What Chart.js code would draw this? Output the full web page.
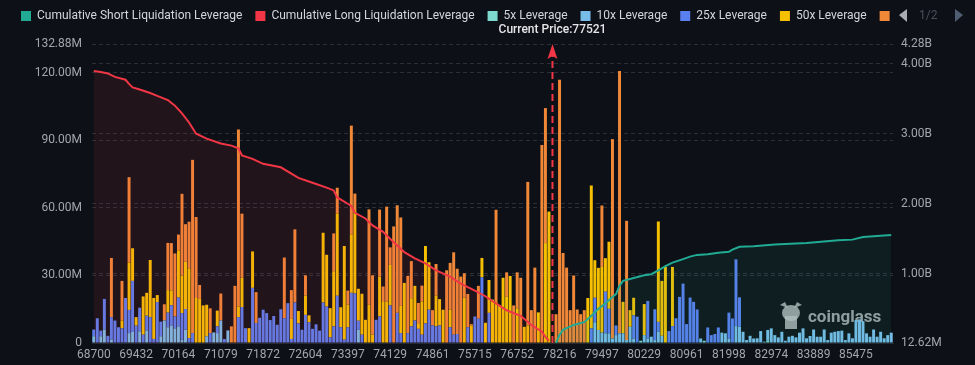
<!DOCTYPE html>
<html>
<head>
<meta charset="utf-8">
<script src="https://cdn.jsdelivr.net/npm/chart.js@4.4.1/dist/chart.umd.min.js"></script>
<style>
  html, body { margin: 0; padding: 0; background: #0d1117; }
  #wrap { width: 975px; height: 365px; }
</style>
</head>
<body>
<div id="wrap"><canvas id="chart" width="975" height="365"></canvas></div>
<script>
// Price levels on the x axis (one category per level, 77521 is the current price slot)
const prices = [
  68700, 68761, 68822, 68883, 68944, 69005, 69066, 69127, 69188, 69249, 69310, 69371,
  69432, 69493, 69554, 69615, 69676, 69737, 69798, 69859, 69920, 69981, 70042, 70103,
  70164, 70225, 70286, 70347, 70469, 70530, 70591, 70652, 70774, 70835, 70957, 71018,
  71079, 71140, 71201, 71262, 71323, 71384, 71445, 71567, 71628, 71689, 71750, 71811,
  71872, 71933, 71994, 72055, 72116, 72177, 72238, 72299, 72360, 72421, 72482, 72543,
  72604, 72665, 72726, 72787, 72848, 72909, 73031, 73092, 73153, 73214, 73275, 73336,
  73397, 73458, 73519, 73580, 73641, 73702, 73763, 73824, 73885, 73946, 74007, 74068,
  74129, 74190, 74251, 74312, 74373, 74434, 74495, 74556, 74617, 74678, 74739, 74800,
  74861, 74922, 74983, 75044, 75166, 75227, 75288, 75349, 75471, 75532, 75593, 75654,
  75715, 75776, 75837, 75959, 76020, 76142, 76264, 76325, 76447, 76569, 76630, 76691,
  76752, 76813, 76874, 76996, 77057, 77118, 77240, 77301, 77362, 77484, 77521, 78155,
  78216, 78277, 78338, 78399, 78521, 78643, 78765, 78887, 79009, 79131, 79253, 79375,
  79497, 79558, 79619, 79680, 79741, 79802, 79863, 79924, 79985, 80046, 80107, 80168,
  80229, 80290, 80351, 80412, 80473, 80534, 80595, 80656, 80717, 80778, 80839, 80900,
  80961, 81022, 81083, 81205, 81266, 81388, 81449, 81571, 81632, 81754, 81815, 81937,
  81998, 82059, 82120, 82181, 82303, 82364, 82425, 82547, 82608, 82730, 82852, 82913,
  82974, 83035, 83096, 83157, 83279, 83340, 83401, 83523, 83584, 83706, 83767, 83828,
  83889, 83950, 84072, 84194, 84316, 84438, 84560, 84743, 84926, 85109, 85231, 85353,
  85475, 85536, 85597, 85658, 85719, 85780, 85841, 85902, 85963, 86024, 86085
];

// Labels shown on the x axis
const tickPrices = [68700, 69432, 70164, 71079, 71872, 72604, 73397, 74129, 74861, 75715,
  76752, 78216, 79497, 80229, 80961, 81998, 82974, 83889, 85475];

const currentPrice = 77521;

// Liquidation volume per level, in millions (left axis)
const lev5 = [
  0,0,0,0,0,0,0,0,0,0,0,0,
  0,0,0,0,0,0,0,0,0,0,0,0,
  0,0,0,0,0,0,0,0,0,0,0,0,
  0,0,0,0,0,0,0,0,0,0,0,0,
  0,0,0,0,0,0,0,0,0,0,0,0,
  0,0,0,0,0,0,0,0,0,0,0,0,
  0,0,0,0,0,0,0,0,0,0,0,0,
  0,0,0,0,0,0,0,0,0,0,0,0,
  0,0,0,0,0,0,0,0,0,0,0,0,
  0,0,0,0,0,0,0,0,0,0,0,0,
  0,0,0,0,0,0,0,0,0,0,null,0,
  0,0,0,0,0,0,0,0,0,0,0,0,
  0,0,0,0,0,0,0,0,0,0,0,1,
  0,0,0,0,0,0,0,0,0,0,0,0,
  0,0,0,0,0,1,0,0,0,0,0,0,
  0,0,0,0,0,0,0,0,0,0,0,1.2,
  0,0,0,0,0,0,0,0,0,0,0,0,
  0,0,0,0,0,0,0,0,0,0,0,0,
  0,0,0,0,0,0,0,0,0,0,0
];
const lev10 = [
  3,0,3,6,0,1.5,0,0,0,0,4.4,4.9,
  0,5.2,0,5.6,0,0,0,3,10,7,7.8,6.5,
  7.4,1.5,5.9,0,0,0,0,0,3,0,4.7,4.4,
  10,0,5.6,0,0,0,0,0,0,0,0,0,
  0,0,0,0,0,0,0,0,0,0,0,0,
  0,0,0,0,0,0,0,0,0,0,0,0,
  0,0,0,5.9,0,0,0,0,0,0,0,0,
  0,0,0,0,0,0,0,0,0,0,0,0,
  0,0,0,0,0,0,0,0,0,0,0,0,
  0,0,0,0,0,0,0,0,0,0,0,0,
  0,0,0,0,0,0,0,0,0,0,null,0,
  0,0,0,0,0,0,0,0,0,0,9.2,5.8,
  4.6,4.3,4.3,2,3.5,4.3,4.3,1.3,7.2,2,0,0,
  3.5,2,2.8,1.3,5,3.2,0,0,0,0,0,0,
  0,0,0,0,2,0,0,0,0,0,4.6,4.3,
  2,0,7.5,7.2,5,1.3,3.2,2,2.1,5.3,0.6,4.6,
  6.5,3.5,2.5,5,1,2.8,3.2,2.5,4.6,6.5,2.1,3.1,
  6,2.8,2.8,6,1.3,4.6,5,5.3,5.5,1.3,4.3,2.1,
  10.2,10.5,9.7,4.3,2.8,6,2.8,5,2.1,3.5,4.6
];
const lev25 = [
  3,11,2.5,13.6,3.2,10,10,7,6.5,20,10.3,22.7,
  7.7,10.5,3.7,6.5,11.5,1.8,18.2,6.5,0,6.5,9,5.3,
  12.8,11.8,9.2,2.2,4.4,0,0,0,0,4.4,0,3,
  0,1.8,0,0,0,11.5,16,6.6,0,24.5,8.9,11.2,
  14.8,13.3,10.2,12,8.1,15,11,17.7,1.8,18,8.7,5.9,
  12.5,9.2,6.3,8.3,5.5,18,16.2,2.5,7.4,21,7,1.5,
  7,22.3,22,4,3.7,0,0,0,10.3,11.8,0,0,
  16.7,0,13.4,4.4,0,4.4,7.4,10,6.3,3.7,8.7,14.8,
  7.8,7.4,7.8,0,0,7,3.7,4,0,0,7,0,
  11.8,10.8,29.2,0,13.4,0,0,0,0,0,0,0,
  0,0,0,0,0,0,0,0,0,0,null,0,
  0,0,0,0,0,0,0,0,0,6.5,10.9,0,
  0,18.5,10.9,0,4.3,0,0,0,0,10.3,11.7,0,
  0,16.7,0,13.7,4.4,0,0,5.3,7.5,11,20.5,26.4,
  8.4,20.2,18.3,14.9,0,0,6.9,3.5,4,6.9,0,0,
  11.5,10.9,29.7,13.1,0,0,0,0,0,0,0,0,
  0,0,0,0,0,0,0,0,0,0,0,0,
  0,0,0,0,0,0,0,0,0,0,0,0,
  0,0,0,0,0,0,0,0,0,0,0
];
const lev50 = [
  0,0,0,0,0,0,0,0,3.5,0,21,14.5,
  3.8,0,17,10.2,25.4,18.2,3.1,0,0,10,6.6,0,
  21,16.7,21,31,0,20,19.6,16.7,14,0,0,7,
  0,0,0,0,0,4.7,13,0,6.6,16.2,0,0,
  0,0,0,0,0,0,0,0,8.9,0,5.5,0,
  8.6,3.1,0,0,0,31,23,13,24.5,36.6,8.9,41.6,
  10,26,37,14.2,18.2,10.3,17,3.7,0,17.7,18.6,18.4,
  18,0,0,12.1,26.7,0,12.5,15.4,2.5,14.8,34.4,21.1,
  0,13.7,11.7,14.8,0,7.8,0,0,0,20.2,0,7.8,
  0,0,8.6,9,14.6,19.3,18.3,16.8,29,20.5,29.8,0,
  15.4,0,7.2,7.8,0,0,13.6,0,44.4,58.4,null,0,
  0,0,0,0,0,0,0,0,20,63.5,16.7,27.6,
  29.2,14.9,29.8,0,0,0,14,0,7.4,7.8,0,0,
  13.8,0,0,0,44.6,24.4,33.8,0,26.3,0,0,0,
  0,0,0,0,0,0,0,0,0,0,0,0,
  0,0,0,0,0,0,0,0,0,0,0,0,
  0,0,0,0,0,0,0,0,0,0,0,0,
  0,0,0,0,0,0,0,0,0,0,0,0,
  0,0,0,0,0,0,0,0,0,0,0
];
const lev100 = [
  0,0,0,0,0,26.3,0,0,17.6,0,38,0,
  0,0,0,0,0,0,0,0,7.2,21,21,28,
  7,36.3,16.7,20.7,77,36,6.2,0,0,11,0,0,
  12,0,0,7.4,25.4,78.7,28.5,0,0,0,13.7,0,
  0,0,0,0,0,0,27,0,12.8,32.5,0,0,
  9,0,0,0,0,0,0,0,16.8,11.4,0,0,
  6.3,48.3,7.4,0,0,0,42.4,26.4,0,29.8,6.5,42.2,
  7.8,51.8,47.8,39.3,0,25.4,16.5,0,9,7,0,0,
  6.8,14,0,0,32.3,20.8,36.6,29,29.5,10.8,14.8,0.6,
  0,14.6,0,0,0,0,40.9,0,0,10.9,0,16.7,
  16,29,0,63.8,14.6,33.5,0,88,60,0,null,12.8,
  117,40,33.5,14.6,30,14.9,12.8,14.6,0,0,0,0,
  27.3,0,0,88.6,0,116.6,0,53,0,0,0,0,
  0,0,0,0,0,0,0,0,0,0,0,0,
  0,0,0,0,0,0,0,0,0,0,0,0,
  0,0,0,0,0,0,0,0,0,0,0,0,
  0,0,0,0,0,0,0,0,0,0,0,0,
  0,0,0,0,0,0,0,0,0,0,0,0,
  0,0,0,0,0,0,0,0,0,0,0
];

// Cumulative liquidation, in millions (right axis), read at these price levels
const cumLong = [
  [68700, 3896], [68822, 3880], [68944, 3860], [69066, 3810], [69249, 3770], [69310, 3710],
  [69371, 3660], [69493, 3630], [69676, 3580], [69798, 3540], [69981, 3480], [70103, 3400],
  [70225, 3290], [70347, 3160], [70530, 3000], [70774, 2930], [71079, 2860], [71262, 2830],
  [71384, 2790], [71445, 2690], [71689, 2640], [71872, 2570], [72177, 2520], [72360, 2430],
  [72482, 2370], [72726, 2300], [73031, 2230], [73153, 2190], [73214, 2090], [73397, 2000],
  [73458, 1970], [73519, 1870], [73702, 1790], [73824, 1690], [74007, 1600], [74190, 1450],
  [74373, 1310], [74556, 1220], [74739, 1150], [74922, 1050], [75227, 960], [75471, 860],
  [75715, 760], [75959, 680], [76264, 577], [76569, 480], [76813, 400], [77057, 270],
  [77301, 175], [77362, 100], [77484, 45]
];
const cumShort = [
  [78155, 12.62], [78216, 130], [78277, 200], [78521, 270], [78887, 310], [79131, 400],
  [79375, 500], [79558, 580], [79680, 670], [79741, 710], [79802, 830], [79863, 900],
  [80046, 940], [80229, 980], [80351, 995], [80473, 1050], [80595, 1110], [80717, 1160],
  [80900, 1210], [81022, 1245], [81205, 1270], [81449, 1280], [81754, 1300], [81998, 1315],
  [82059, 1345], [82181, 1385], [82547, 1395], [83035, 1418], [83767, 1440], [84743, 1478],
  [85353, 1488], [85597, 1525], [86085, 1553]
];

// Axis ticks
const leftTicks = [0, 30, 60, 90, 120, 132.88];
const rightTicks = [12.62, 1000, 2000, 3000, 4000, 4280];

const colors = {
  short: '#22ab94', long: '#f23645',
  x5: '#7fd8d0', x10: '#78bdea', x25: '#5a7ff0', x50: '#f5c000', x100: '#f08838'
};

Chart.defaults.font.family = 'Roboto, "Noto Sans", sans-serif';
Chart.defaults.font.size = 12;
Chart.defaults.color = '#a2a6ad';

function fmtRight(v) {
  return v >= 1000 ? (v / 1000).toFixed(2) + 'B' : v.toFixed(2) + 'M';
}

function barSet(label, data, color) {
  return {
    type: 'bar', label, data, backgroundColor: color, borderWidth: 0,
    yAxisID: 'y', stack: 'lev', barPercentage: 0.84, categoryPercentage: 1
  };
}

// current price marker, watermark and legend pager
const extras = {
  id: 'extras',
  beforeDatasetsDraw(chart) {
    const { ctx } = chart;
    ctx.save();
    ctx.fillStyle = 'rgba(190,192,196,0.8)';
    // rough coinglass head
    ctx.beginPath();
    ctx.ellipse(791, 313, 9, 8, 0, 0, Math.PI * 2);
    ctx.fill();
    ctx.beginPath();
    ctx.moveTo(780, 305); ctx.lineTo(785, 302); ctx.lineTo(788, 308); ctx.fill();
    ctx.beginPath();
    ctx.moveTo(802, 305); ctx.lineTo(797, 302); ctx.lineTo(794, 308); ctx.fill();
    ctx.fillRect(785, 316, 12, 13);
    ctx.font = 'bold 17px Roboto, sans-serif';
    ctx.textBaseline = 'middle';
    ctx.fillText('coinglass', 808, 318);
    ctx.restore();
  },
  afterDatasetsDraw(chart) {
    const { ctx, chartArea, scales: { x } } = chart;
    const px = x.getPixelForValue(prices.indexOf(currentPrice));
    ctx.save();
    ctx.strokeStyle = colors.long;
    ctx.lineWidth = 2;
    ctx.setLineDash([7, 4]);
    ctx.beginPath();
    ctx.moveTo(px, chartArea.bottom);
    ctx.lineTo(px, chartArea.top + 12);
    ctx.stroke();
    ctx.setLineDash([]);
    ctx.fillStyle = colors.long;
    ctx.beginPath();
    ctx.moveTo(px, chartArea.top);
    ctx.lineTo(px - 5, chartArea.top + 15);
    ctx.lineTo(px, chartArea.top + 12);
    ctx.lineTo(px + 5, chartArea.top + 15);
    ctx.closePath();
    ctx.fill();
    ctx.fillStyle = '#e4e6e9';
    ctx.font = '500 12px Roboto, sans-serif';
    ctx.textAlign = 'center';
    ctx.textBaseline = 'middle';
    ctx.fillText('Current Price:' + currentPrice, px, 30);
    ctx.restore();
  },
  afterDraw(chart) {
    const { ctx } = chart;
    ctx.save();
    ctx.fillStyle = '#a9acb2';
    ctx.beginPath();
    ctx.moveTo(899, 15); ctx.lineTo(907, 9); ctx.lineTo(907, 22); ctx.closePath(); ctx.fill();
    ctx.fillStyle = '#4a4f58';
    ctx.font = '12px Roboto, sans-serif';
    ctx.textBaseline = 'middle';
    ctx.fillText('1/2', 919, 16);
    ctx.fillStyle = '#4f5d72';
    ctx.beginPath();
    ctx.moveTo(963, 15); ctx.lineTo(955, 9); ctx.lineTo(955, 22); ctx.closePath(); ctx.fill();
    ctx.restore();
  }
};

new Chart(document.getElementById('chart'), {
  data: {
    labels: prices,
    datasets: [
      {
        type: 'line', label: 'Cumulative Short Liquidation Leverage',
        data: cumShort.map(([p, v]) => ({ x: p, y: v })),
        borderColor: colors.short, backgroundColor: 'rgba(34,171,148,0.09)',
        borderWidth: 2, pointRadius: 0, tension: 0, fill: 'start', yAxisID: 'y1'
      },
      {
        type: 'line', label: 'Cumulative Long Liquidation Leverage',
        data: cumLong.map(([p, v]) => ({ x: p, y: v })),
        borderColor: colors.long, backgroundColor: 'rgba(242,54,69,0.09)',
        borderWidth: 2, pointRadius: 0, tension: 0, fill: 'start', yAxisID: 'y1'
      },
      barSet('5x Leverage', lev5, colors.x5),
      barSet('10x Leverage', lev10, colors.x10),
      barSet('25x Leverage', lev25, colors.x25),
      barSet('50x Leverage', lev50, colors.x50),
      barSet('100x Leverage', lev100, colors.x100)
    ]
  },
  options: {
    responsive: false,
    animation: false,
    devicePixelRatio: 1,
    layout: { padding: { left: 11, right: 0, top: 0, bottom: 0 } },
    plugins: {
      tooltip: { enabled: false },
      legend: {
        position: 'top', align: 'start',
        labels: {
          boxWidth: 10, boxHeight: 10, padding: 10, color: '#d3d6db',
          font: { size: 12 },
          generateLabels(chart) {
            const sw = [colors.short, colors.long, colors.x5, colors.x10, colors.x25, colors.x50, colors.x100];
            return chart.data.datasets.map((ds, i) => ({
              text: i === 6 ? '' : ds.label + ' ',
              fillStyle: sw[i], strokeStyle: sw[i], lineWidth: 0,
              hidden: false, datasetIndex: i, fontColor: '#d3d6db'
            }));
          }
        }
      }
    },
    scales: {
      x: {
        type: 'category', stacked: true, offset: true,
        grid: { display: false, drawTicks: false },
        border: { display: true, color: '#262a31' },
        ticks: {
          autoSkip: false, maxRotation: 0, padding: 5, color: '#a2a6ad',
          callback: (v) => tickPrices.includes(prices[v]) ? String(prices[v]) : null
        },
        afterFit: (s) => { s.height = 22; }
      },
      // empty band between legend and plot
      gap: {
        type: 'category', position: 'top', display: true,
        grid: { display: false, drawTicks: false },
        border: { display: false },
        ticks: { display: false },
        afterFit: (s) => { s.height = 12; }
      },
      y: {
        position: 'left', stacked: true, min: 0, max: 132.88,
        grid: { color: '#2b2f36', drawTicks: false },
        border: { display: false, dash: [4, 3] },
        ticks: { padding: 10, callback: (v) => v === 0 ? '0' : v.toFixed(2) + 'M' },
        afterBuildTicks: (s) => { s.ticks = leftTicks.map(v => ({ value: v })); },
        afterFit: (s) => { s.width = 81; }
      },
      y1: {
        position: 'right', stacked: false, min: 12.62, max: 4280,
        grid: { color: '#2b2f36', drawTicks: false },
        border: { display: false, dash: [4, 3] },
        ticks: { padding: 8, callback: (v) => fmtRight(v) },
        afterBuildTicks: (s) => { s.ticks = rightTicks.map(v => ({ value: v })); },
        afterFit: (s) => { s.width = 82; }
      }
    }
  },
  plugins: [extras]
});
</script>
</body>
</html>
